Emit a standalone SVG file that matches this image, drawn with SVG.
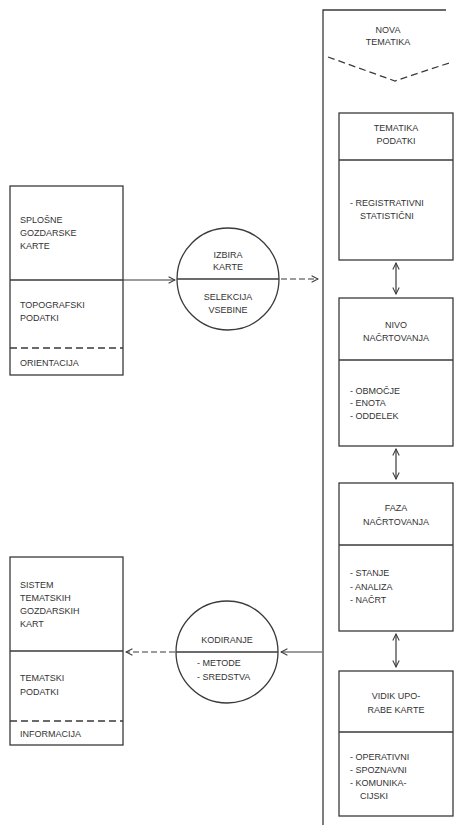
<svg xmlns="http://www.w3.org/2000/svg" width="464" height="825" viewBox="0 0 464 825">
<defs>
<style>
.b{fill:none;stroke:#3a3a3a;stroke-width:1.3}
.d{fill:none;stroke:#3a3a3a;stroke-width:1.3;stroke-dasharray:7,4}
.t{font-family:"Liberation Sans",Arial,sans-serif;font-size:9px;fill:#333;text-transform:uppercase}
.c{text-anchor:middle}
.a{fill:none;stroke:#3a3a3a;stroke-width:1.2}
</style>
<marker id="ah" viewBox="0 0 10 10" refX="9" refY="5" markerWidth="8" markerHeight="8" orient="auto-start-reverse" markerUnits="userSpaceOnUse">
<path d="M1,1 L9,5 L1,9" fill="none" stroke="#3a3a3a" stroke-width="1.3"/>
</marker>
</defs>
<rect width="464" height="825" fill="#fff"/>

<g id="panel">
<path class="b" d="M323,825 V10 H446"/>
<path class="d" d="M328,57 L395,81 L452,62"/>
<text class="t c" x="388" y="33">NOVA</text>
<text class="t c" x="388" y="45">TEMATIKA</text>
</g>

<g id="splosne">
<rect class="b" x="10" y="186" width="113" height="189"/>
<line class="b" x1="10" y1="280" x2="123" y2="280"/>
<line class="d" x1="10" y1="348" x2="123" y2="348"/>
<text class="t" x="20" y="223">SPLOŠNE</text>
<text class="t" x="20" y="236">GOZDARSKE</text>
<text class="t" x="20" y="249">KARTE</text>
<text class="t" x="20" y="308">TOPOGRAFSKI</text>
<text class="t" x="20" y="321">PODATKI</text>
<text class="t" x="20" y="366">ORIENTACIJA</text>
</g>

<g id="izbira">
<circle class="b" cx="228" cy="279" r="51"/>
<line class="b" x1="177" y1="279" x2="279" y2="279"/>
<text class="t c" x="228" y="258">IZBIRA</text>
<text class="t c" x="228" y="270">KARTE</text>
<text class="t c" x="228" y="300">SELEKCIJA</text>
<text class="t c" x="228" y="313">VSEBINE</text>
</g>

<g id="tematika">
<rect class="b" x="339" y="113" width="114" height="147"/>
<line class="b" x1="339" y1="160" x2="453" y2="160"/>
<text class="t c" x="396" y="131">TEMATIKA</text>
<text class="t c" x="396" y="144">PODATKI</text>
<text class="t" x="350" y="206">-  REGISTRATIVNI</text>
<text class="t" x="360" y="219">STATISTIČNI</text>
</g>

<g id="nivo">
<rect class="b" x="339" y="298" width="114" height="148"/>
<line class="b" x1="339" y1="360" x2="453" y2="360"/>
<text class="t c" x="396" y="328">NIVO</text>
<text class="t c" x="396" y="341">NAČRTOVANJA</text>
<text class="t" x="350" y="394">-  OBMOČJE</text>
<text class="t" x="350" y="406">-  ENOTA</text>
<text class="t" x="350" y="419">-  ODDELEK</text>
</g>

<g id="faza">
<rect class="b" x="339" y="483" width="114" height="148"/>
<line class="b" x1="339" y1="545" x2="453" y2="545"/>
<text class="t c" x="396" y="511">FAZA</text>
<text class="t c" x="396" y="525">NAČRTOVANJA</text>
<text class="t" x="350" y="576">-  STANJE</text>
<text class="t" x="350" y="590">-  ANALIZA</text>
<text class="t" x="350" y="603">-  NAČRT</text>
</g>

<g id="vidik">
<rect class="b" x="339" y="671" width="114" height="145"/>
<line class="b" x1="339" y1="732" x2="453" y2="732"/>
<text class="t c" x="396" y="699">VIDIK UPO-</text>
<text class="t c" x="396" y="713">RABE KARTE</text>
<text class="t" x="350" y="760">-  OPERATIVNI</text>
<text class="t" x="350" y="773">-  SPOZNAVNI</text>
<text class="t" x="350" y="786">-  KOMUNIKA-</text>
<text class="t" x="360" y="799">CIJSKI</text>
</g>

<g id="kodiranje">
<circle class="b" cx="227" cy="652" r="51"/>
<line class="b" x1="176" y1="652" x2="278" y2="652"/>
<text class="t c" x="227" y="643">KODIRANJE</text>
<text class="t" x="197" y="666">-  METODE</text>
<text class="t" x="197" y="680">-  SREDSTVA</text>
</g>

<g id="sistem">
<rect class="b" x="10" y="557" width="113" height="188"/>
<line class="b" x1="10" y1="651" x2="123" y2="651"/>
<line class="d" x1="10" y1="721" x2="123" y2="721"/>
<text class="t" x="20" y="588">SISTEM</text>
<text class="t" x="20" y="601">TEMATSKIH</text>
<text class="t" x="20" y="614">GOZDARSKIH</text>
<text class="t" x="20" y="627">KART</text>
<text class="t" x="20" y="681">TEMATSKI</text>
<text class="t" x="20" y="695">PODATKI</text>
<text class="t" x="20" y="737">INFORMACIJA</text>
</g>

<g id="connectors">
<line class="a" x1="123" y1="280" x2="175" y2="280" marker-end="url(#ah)"/>
<line class="a" x1="281" y1="279" x2="318" y2="279" stroke-dasharray="6,3" marker-end="url(#ah)"/>
<line class="a" x1="396" y1="263" x2="396" y2="294" marker-start="url(#ah)" marker-end="url(#ah)"/>
<line class="a" x1="396" y1="449" x2="396" y2="479" marker-start="url(#ah)" marker-end="url(#ah)"/>
<line class="a" x1="396" y1="634" x2="396" y2="667" marker-start="url(#ah)" marker-end="url(#ah)"/>
<line class="a" x1="322" y1="652" x2="281" y2="652" marker-end="url(#ah)"/>
<line class="a" x1="175" y1="652" x2="126" y2="652" stroke-dasharray="6,3" marker-end="url(#ah)"/>
</g>
</svg>
